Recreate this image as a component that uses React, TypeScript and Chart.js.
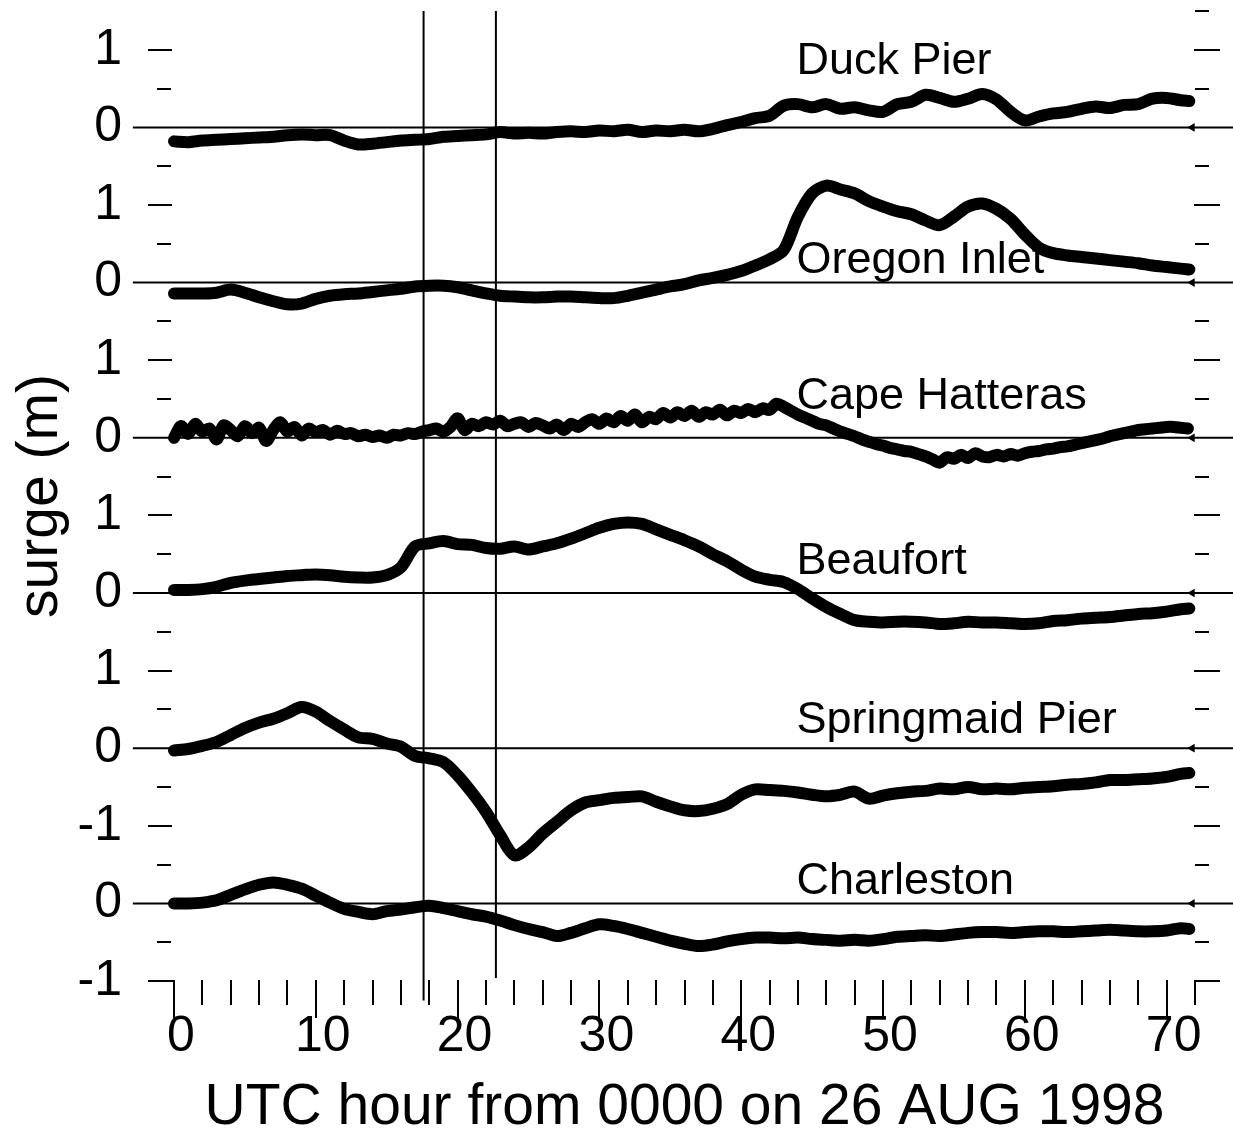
import React, { useEffect, useRef } from "react";
import { Chart, registerables } from "chart.js";

Chart.register(...registerables);

// ---- data -----------------------------------------------------------------
const HOURS = [
  0, 1, 2, 3, 4, 5, 6, 7, 8, 9, 10, 11, 12, 13, 14, 15, 16, 17, 18, 19, 20, 21, 22, 23,
  24, 25, 26, 27, 28, 29, 30, 31, 32, 33, 34, 35, 36, 37, 38, 39, 40, 41, 42, 43, 44, 45, 46, 47,
  48, 49, 50, 51, 52, 53, 54, 55, 56, 57, 58, 59, 60, 61, 62, 63, 64, 65, 66, 67, 68, 69, 70, 71, 71.6,
];

const HALF_HOURS = [
  0, 0.5, 1, 1.5, 2, 2.5, 3, 3.5, 4, 4.5, 5, 5.5, 6, 6.5, 7, 7.5, 8, 8.5, 9, 9.5, 10, 10.5, 11, 11.5,
  12, 12.5, 13, 13.5, 14, 14.5, 15, 15.5, 16, 16.5, 17, 17.5, 18, 18.5, 19, 19.5, 20, 20.5, 21, 21.5, 22, 22.5, 23, 23.5,
  24, 24.5, 25, 25.5, 26, 26.5, 27, 27.5, 28, 28.5, 29, 29.5, 30, 30.5, 31, 31.5, 32, 32.5, 33, 33.5, 34, 34.5, 35, 35.5,
  36, 36.5, 37, 37.5, 38, 38.5, 39, 39.5, 40, 40.5, 41, 41.5, 42, 42.5, 43, 43.5, 44, 44.5, 45, 45.5, 46, 46.5, 47, 47.5,
  48, 48.5, 49, 49.5, 50, 50.5, 51, 51.5, 52, 52.5, 53, 53.5, 54, 54.5, 55, 55.5, 56, 56.5, 57, 57.5, 58, 58.5, 59, 59.5,
  60, 60.5, 61, 61.5, 62, 62.5, 63, 63.5, 64, 64.5, 65, 65.5, 66, 66.5, 67, 67.5, 68, 68.5, 69, 69.5, 70, 70.5, 71, 71.5,
];

const STATIONS = ["Duck Pier", "Oregon Inlet", "Cape Hatteras", "Beaufort", "Springmaid Pier", "Charleston"];
const OFFSETS = [10, 8, 6, 4, 2, 0]; // stacking offset of each station's zero (m)

const DUCK_PIER = [
  -0.18, -0.19, -0.17, -0.16, -0.15, -0.14, -0.13, -0.12, -0.10, -0.09, -0.10, -0.10,
  -0.17, -0.22, -0.21, -0.19, -0.17, -0.16, -0.15, -0.12, -0.11, -0.10, -0.09, -0.06,
  -0.08, -0.07, -0.08, -0.06, -0.05, -0.06, -0.04, -0.05, -0.03, -0.06, -0.04, -0.05,
  -0.03, -0.05, -0.02, 0.03, 0.07, 0.12, 0.15, 0.28, 0.30, 0.26, 0.30, 0.24,
  0.26, 0.22, 0.20, 0.30, 0.33, 0.42, 0.38, 0.33, 0.37, 0.43, 0.36, 0.20,
  0.09, 0.14, 0.18, 0.20, 0.24, 0.27, 0.25, 0.29, 0.30, 0.37, 0.38, 0.35, 0.34,
];

const OREGON_INLET = [
  -0.14, -0.14, -0.14, -0.13, -0.09, -0.13, -0.19, -0.24, -0.28, -0.27, -0.21, -0.17,
  -0.15, -0.14, -0.12, -0.10, -0.08, -0.05, -0.04, -0.04, -0.06, -0.10, -0.14, -0.17,
  -0.18, -0.19, -0.19, -0.18, -0.18, -0.19, -0.20, -0.20, -0.17, -0.13, -0.09, -0.05,
  -0.02, 0.03, 0.06, 0.10, 0.15, 0.22, 0.30, 0.42, 0.85, 1.15, 1.25, 1.20,
  1.15, 1.05, 0.98, 0.92, 0.88, 0.80, 0.74, 0.85, 0.98, 1.02, 0.95, 0.82,
  0.62, 0.45, 0.38, 0.35, 0.33, 0.31, 0.29, 0.27, 0.25, 0.22, 0.20, 0.18, 0.17,
];

const CAPE_HATTERAS = [
  0.00, 0.15, 0.05, 0.18, 0.08, 0.12, -0.02, 0.16, 0.10, 0.02, 0.15, 0.06,
  0.13, -0.04, 0.10, 0.20, 0.08, 0.14, 0.03, 0.12, 0.07, 0.10, 0.04, 0.09,
  0.05, 0.06, 0.02, 0.04, 0.01, 0.03, 0.00, 0.04, 0.03, 0.06, 0.05, 0.08,
  0.10, 0.12, 0.08, 0.14, 0.25, 0.10, 0.18, 0.15, 0.20, 0.17, 0.22, 0.15,
  0.18, 0.20, 0.14, 0.19, 0.16, 0.12, 0.17, 0.10, 0.18, 0.14, 0.20, 0.24,
  0.18, 0.25, 0.20, 0.28, 0.22, 0.30, 0.20, 0.27, 0.24, 0.32, 0.26, 0.33,
  0.28, 0.35, 0.27, 0.33, 0.30, 0.36, 0.29, 0.35, 0.32, 0.37, 0.33, 0.38,
  0.36, 0.44, 0.40, 0.35, 0.30, 0.26, 0.22, 0.18, 0.16, 0.12, 0.08, 0.05,
  0.02, -0.02, -0.05, -0.08, -0.10, -0.13, -0.15, -0.17, -0.18, -0.21, -0.24, -0.28,
  -0.32, -0.25, -0.27, -0.22, -0.26, -0.20, -0.24, -0.25, -0.22, -0.24, -0.21, -0.23,
  -0.20, -0.18, -0.17, -0.15, -0.14, -0.12, -0.11, -0.09, -0.07, -0.05, -0.03, -0.01,
  0.02, 0.04, 0.06, 0.08, 0.10, 0.11, 0.12, 0.13, 0.14, 0.14, 0.13, 0.12,
];

const BEAUFORT = [
  0.04, 0.04, 0.05, 0.08, 0.13, 0.16, 0.18, 0.20, 0.22, 0.23, 0.24, 0.23,
  0.21, 0.20, 0.20, 0.23, 0.33, 0.60, 0.64, 0.67, 0.63, 0.62, 0.58, 0.57,
  0.60, 0.56, 0.60, 0.64, 0.70, 0.77, 0.84, 0.89, 0.91, 0.89, 0.82, 0.75,
  0.68, 0.60, 0.50, 0.41, 0.30, 0.21, 0.17, 0.14, 0.05, -0.07, -0.18, -0.27,
  -0.35, -0.37, -0.38, -0.37, -0.37, -0.38, -0.40, -0.39, -0.37, -0.38, -0.38, -0.39,
  -0.40, -0.39, -0.36, -0.35, -0.33, -0.32, -0.31, -0.29, -0.27, -0.26, -0.24, -0.21, -0.20,
];

const SPRINGMAID_PIER = [
  -0.03, -0.01, 0.03, 0.08, 0.17, 0.26, 0.33, 0.38, 0.45, 0.53, 0.47, 0.35,
  0.24, 0.14, 0.12, 0.06, 0.02, -0.10, -0.13, -0.18, -0.35, -0.57, -0.82, -1.12,
  -1.38, -1.28, -1.10, -0.95, -0.80, -0.70, -0.67, -0.64, -0.63, -0.62, -0.69, -0.75,
  -0.80, -0.81, -0.78, -0.72, -0.60, -0.53, -0.54, -0.55, -0.57, -0.60, -0.62, -0.60,
  -0.56, -0.65, -0.61, -0.58, -0.56, -0.55, -0.52, -0.53, -0.50, -0.53, -0.52, -0.53,
  -0.51, -0.50, -0.49, -0.47, -0.46, -0.44, -0.41, -0.41, -0.40, -0.39, -0.37, -0.33, -0.32,
];

const CHARLESTON = [
  0.00, 0.00, 0.01, 0.04, 0.11, 0.18, 0.24, 0.27, 0.24, 0.19, 0.10, 0.01,
  -0.07, -0.11, -0.14, -0.10, -0.08, -0.05, -0.03, -0.06, -0.10, -0.14, -0.17, -0.22,
  -0.28, -0.33, -0.37, -0.42, -0.38, -0.32, -0.27, -0.29, -0.33, -0.38, -0.43, -0.48,
  -0.52, -0.55, -0.53, -0.49, -0.46, -0.44, -0.44, -0.45, -0.44, -0.46, -0.47, -0.48,
  -0.47, -0.48, -0.46, -0.43, -0.42, -0.41, -0.42, -0.40, -0.38, -0.37, -0.37, -0.38,
  -0.37, -0.36, -0.36, -0.37, -0.36, -0.35, -0.34, -0.35, -0.36, -0.36, -0.35, -0.32, -0.33,
];

// label placement (hour, level above each station's zero)
const LABEL_HOUR = 43.9;
const LABEL_LEVEL = [0.85, 0.29, 0.53, 0.4, 0.36, 0.28];

// y ticks of the stacked axis and the label shown at each
const Y_TICK_VALUES = [-1, 0, 1, 2, 3, 4, 5, 6, 7, 8, 9, 10, 11];
const Y_TICK_LABELS = ["-1", "0", "-1", "0", "1", "0", "1", "0", "1", "0", "1", "0", "1"];

// x ticks every 2 h, labelled every 10 h
const X_TICK_VALUES = [
  0, 2, 4, 6, 8, 10, 12, 14, 16, 18, 20, 22, 24, 26, 28, 30, 32, 34, 36,
  38, 40, 42, 44, 46, 48, 50, 52, 54, 56, 58, 60, 62, 64, 66, 68, 70, 72,
];

// vertical reference lines (hours) and where each ends at the bottom
const MARK_HOURS = [17.6, 22.7];
const MARK_BOTTOM = [-1.25, -0.96];

const ZERO_LINE_START = -2.9;
const ZERO_LINE_END = 74.8;
const END_MARK_HOUR = 71.8;

const X_TITLE = "UTC hour from 0000 on 26 AUG 1998";
const Y_TITLE = "surge (m)";

// ---------------------------------------------------------------------------
const FONT = "'Liberation Sans', Arial, Helvetica, sans-serif";

const framePlugin = {
  id: "frameTicks",
  beforeDatasetsDraw(chart: any) {
    const { ctx, scales } = chart;
    const x = scales.x;
    const y = scales.y;
    ctx.save();
    ctx.fillStyle = "#000";
    ctx.font = `45px ${FONT}`;
    ctx.textAlign = "left";
    ctx.textBaseline = "middle";
    STATIONS.forEach((name, i) => {
      ctx.fillText(name, x.getPixelForValue(LABEL_HOUR), y.getPixelForValue(OFFSETS[i] + LABEL_LEVEL[i]));
    });
    ctx.restore();
  },
  afterDatasetsDraw(chart: any) {
    const { ctx, chartArea, scales } = chart;
    const { left, right, bottom } = chartArea;
    const x = scales.x;
    const y = scales.y;
    ctx.save();
    ctx.strokeStyle = "#000";
    ctx.lineWidth = 2;
    ctx.lineCap = "butt";
    ctx.beginPath();
    for (let v = y.min; v <= y.max + 1e-9; v += 0.5) {
      if (OFFSETS.includes(v)) continue;
      const py = Math.round(y.getPixelForValue(v));
      const major = Number.isInteger(v);
      if (v <= 11) {
        if (major) {
          ctx.moveTo(left - 26, py);
          ctx.lineTo(v === y.min ? left + 1 : left - 2, py);
        } else {
          ctx.moveTo(left - 17, py);
          ctx.lineTo(left - 3, py);
        }
      }
      if (major) {
        ctx.moveTo(right - 1, py);
        ctx.lineTo(right + 25, py);
      } else {
        ctx.moveTo(right, py);
        ctx.lineTo(right + 14, py);
      }
    }
    X_TICK_VALUES.forEach((h) => {
      const px = Math.round(x.getPixelForValue(h));
      ctx.moveTo(px, bottom - 1);
      ctx.lineTo(px, bottom + (h % 10 === 0 ? 37 : 24));
    });
    ctx.stroke();
    ctx.restore();
  },
};

export default function App() {
  const canvasRef = useRef<HTMLCanvasElement | null>(null);

  useEffect(() => {
    const canvas = canvasRef.current;
    if (!canvas) return;
    Chart.defaults.font.family = FONT;
    Chart.defaults.color = "#000";

    const seriesValues = [DUCK_PIER, OREGON_INLET, CAPE_HATTERAS, BEAUFORT, SPRINGMAID_PIER, CHARLESTON];
    const seriesHours = [HOURS, HOURS, HALF_HOURS, HOURS, HOURS, HOURS];

    const datasets: any[] = [];
    OFFSETS.forEach((off) => {
      datasets.push({
        data: [
          { x: ZERO_LINE_START, y: off },
          { x: ZERO_LINE_END, y: off },
        ],
        borderColor: "#000",
        borderWidth: 2,
        pointRadius: 0,
        tension: 0,
        clip: false,
      });
    });
    MARK_HOURS.forEach((h, i) => {
      datasets.push({
        data: [
          { x: h, y: 11.5 },
          { x: h, y: MARK_BOTTOM[i] },
        ],
        borderColor: "#000",
        borderWidth: 2,
        pointRadius: 0,
        tension: 0,
        clip: false,
      });
    });
    datasets.push({
      data: OFFSETS.map((off) => ({ x: END_MARK_HOUR, y: off })),
      showLine: false,
      pointStyle: "triangle",
      rotation: -90,
      pointRadius: 5,
      pointBackgroundColor: "#000",
      pointBorderColor: "#000",
      pointBorderWidth: 0,
      clip: false,
    });
    seriesValues.forEach((vals, i) => {
      datasets.push({
        label: STATIONS[i],
        data: vals.map((v, j) => ({ x: seriesHours[i][j], y: OFFSETS[i] + v })),
        borderColor: "#000",
        borderWidth: 12,
        borderCapStyle: "round",
        borderJoinStyle: "round",
        pointRadius: 0,
        tension: 0.3,
        clip: false,
      });
    });

    const chart = new Chart(canvas, {
      type: "line",
      data: { datasets },
      plugins: [framePlugin],
      options: {
        animation: false,
        responsive: false,
        devicePixelRatio: 1,
        events: [],
        layout: { padding: { top: 11, right: 38, left: 0, bottom: 0 } },
        plugins: { legend: { display: false }, tooltip: { enabled: false } },
        scales: {
          x: {
            type: "linear",
            position: "bottom",
            min: 0,
            max: 72,
            afterBuildTicks: (s: any) => {
              s.ticks = X_TICK_VALUES.map((v) => ({ value: v }));
            },
            afterFit: (s: any) => {
              s.height = 157;
              s.paddingLeft = 0;
              s.paddingRight = 0;
            },
            grid: { display: false, drawTicks: false },
            border: { display: false },
            ticks: {
              autoSkip: false,
              maxRotation: 0,
              minRotation: 0,
              padding: 26,
              labelOffset: 7,
              color: "#000",
              font: { size: 50 },
              callback: (v: any) => (Number(v) % 10 === 0 && Number(v) < 72 ? String(v) : ""),
            },
            title: {
              display: true,
              text: X_TITLE,
              color: "#000",
              font: { size: 57, lineHeight: 1 },
              padding: { top: 0, bottom: 1.5 },
            },
          },
          y: {
            type: "linear",
            position: "left",
            min: -1,
            max: 11.5,
            afterBuildTicks: (s: any) => {
              s.ticks = Y_TICK_VALUES.map((v) => ({ value: v }));
            },
            afterFit: (s: any) => {
              s.width = 174;
              s.paddingTop = 0;
              s.paddingBottom = 0;
            },
            grid: { display: false, drawTicks: false },
            border: { display: false },
            ticks: {
              autoSkip: false,
              padding: 52,
              color: "#000",
              font: { size: 50 },
              callback: (_v: any, i: number) => Y_TICK_LABELS[i] ?? "",
            },
            title: {
              display: true,
              text: Y_TITLE,
              color: "#000",
              font: { size: 57, lineHeight: 1 },
              padding: { top: 13, bottom: 0 },
            },
          },
        },
      },
    } as any);

    return () => chart.destroy();
  }, []);

  return (
    <div style={{ position: "absolute", left: 0, top: 0, width: 1233, height: 1138, background: "#fff" }}>
      <canvas ref={canvasRef} width={1233} height={1138} style={{ width: 1233, height: 1138, display: "block" }} />
    </div>
  );
}
